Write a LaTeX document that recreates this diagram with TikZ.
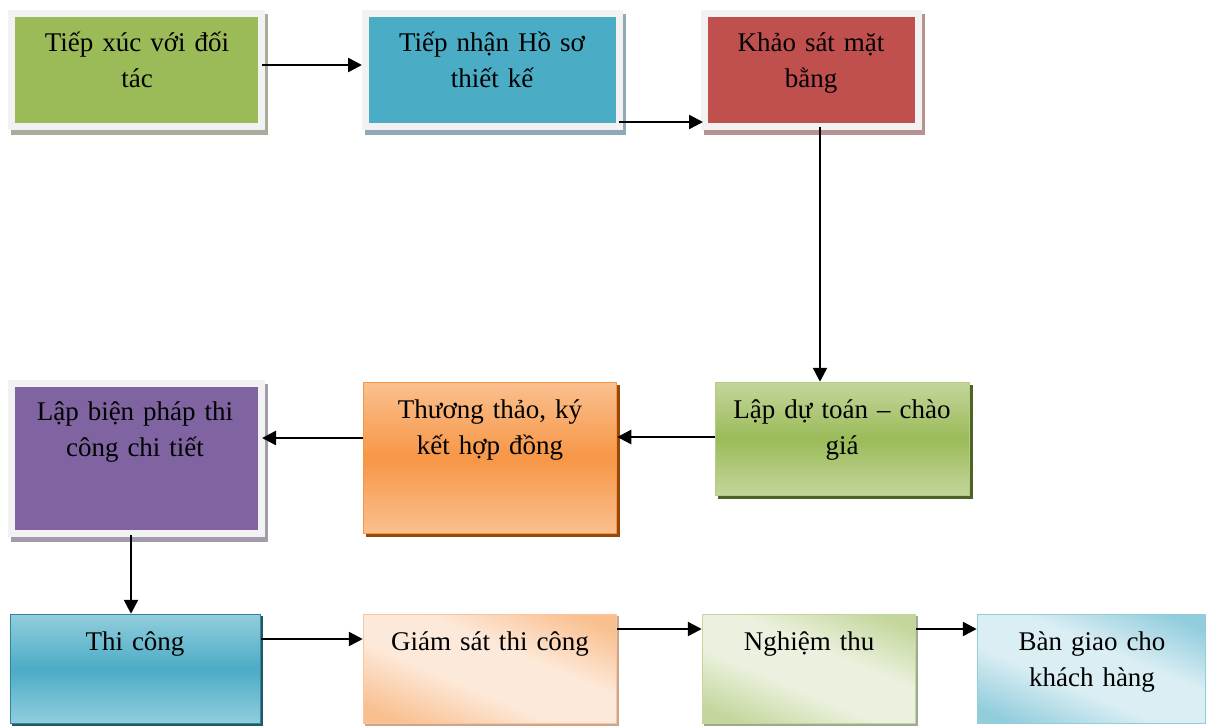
\documentclass[tikz,border=0pt]{standalone}
\usepackage{fontspec}
\setmainfont{Liberation Serif}
\usetikzlibrary{arrows.meta,backgrounds}
\definecolor{frameg}{HTML}{F2F2F2}
\definecolor{cgreen}{HTML}{9BBB59}
\definecolor{cblue}{HTML}{4BACC6}
\definecolor{cred}{HTML}{C0504D}
\definecolor{cpurple}{HTML}{8064A2}
\definecolor{sh1}{HTML}{A7AC9B}
\definecolor{sh2}{HTML}{8FAAB6}
\definecolor{sh3}{HTML}{B89290}
\definecolor{sh6}{HTML}{A39BAD}
\definecolor{gL}{HTML}{C3D69B}
\definecolor{gD}{HTML}{9BBB59}
\definecolor{gB}{HTML}{B3CC82}
\definecolor{gS}{HTML}{4F6228}
\definecolor{oL}{HTML}{FAC08F}
\definecolor{oD}{HTML}{F79646}
\definecolor{oS}{HTML}{984807}
\definecolor{bL}{HTML}{92CDDC}
\definecolor{bD}{HTML}{4BACC6}
\definecolor{bB}{HTML}{31859C}
\definecolor{bS}{HTML}{215968}
\definecolor{pD}{HTML}{F9BF8F}
\definecolor{pL}{HTML}{FDE9D9}
\definecolor{pB}{HTML}{FAC59E}
\definecolor{pS}{HTML}{C9A68C}
\definecolor{nD}{HTML}{C3D69B}
\definecolor{nL}{HTML}{EBF1DE}
\definecolor{nS}{HTML}{A0A890}
\definecolor{kD}{HTML}{92CDDC}
\definecolor{kL}{HTML}{DBEEF4}
\pgfdeclarehorizontalshading{shpeach}{100bp}{color(0bp)=(pD); color(22bp)=(pD); color(42bp)=(pL); color(58bp)=(pL); color(78bp)=(pD); color(100bp)=(pD)}
\pgfdeclarehorizontalshading{shlgreen}{100bp}{color(0bp)=(nD); color(22bp)=(nD); color(42bp)=(nL); color(58bp)=(nL); color(78bp)=(nD); color(100bp)=(nD)}
\pgfdeclarehorizontalshading{shlblue}{100bp}{color(0bp)=(kD); color(22bp)=(kD); color(42bp)=(kL); color(58bp)=(kL); color(78bp)=(kD); color(100bp)=(kD)}
\begin{document}
\begin{tikzpicture}[x=1pt,y=-1pt,
  fbox/.style={draw=frameg, line width=7pt, inner sep=0pt},
  gbox/.style={line width=1.5pt, inner sep=0pt},
  lbl/.style={anchor=north, inner sep=0pt, text width=#1, align=center,
    font=\fontsize{27}{36}\selectfont},
  conn/.style={line width=2.5pt, -{Triangle[length=14pt,width=14pt]}}]
\useasboundingbox (0,0) rectangle (1207,726);
% boxes
\node[fbox, fill=cgreen, minimum width=250, minimum height=113] (b1) at (136.5,70) {};
\node[fbox, fill=cblue, minimum width=254, minimum height=113] (b2) at (492.5,70) {};
\node[fbox, fill=cred, minimum width=214, minimum height=113] (b3) at (811.5,70) {};
\node[gbox, draw=gB, top color=gL, bottom color=gL, middle color=gD, minimum width=254, minimum height=113] (b4) at (842.5,439) {};
\node[gbox, draw=oD, top color=oL, bottom color=oL, middle color=oD, minimum width=253, minimum height=151] (b5) at (490,458) {};
\node[fbox, fill=cpurple, minimum width=250, minimum height=150] (b6) at (136.5,458.5) {};
\node[gbox, draw=bB, top color=bL, bottom color=bL, middle color=bD, minimum width=250, minimum height=109] (b7) at (135.5,669) {};
\node[gbox, draw=pB, shading=shpeach, shading angle=67, minimum width=253, minimum height=109] (b8) at (490,669) {};
\node[gbox, draw=nD, shading=shlgreen, shading angle=67, minimum width=213, minimum height=109] (b9) at (809,669) {};
\node[gbox, draw=kD, shading=shlblue, shading angle=67, minimum width=228, minimum height=109] (b10) at (1091.5,669) {};
% shadows
\begin{pgfonlayer}{background}
\fill[sh1] ([shift={(3,4)}]b1.north west) rectangle ([shift={(3,5)}]b1.south east);
\fill[sh2] ([shift={(3,4)}]b2.north west) rectangle ([shift={(3,5)}]b2.south east);
\fill[sh3] ([shift={(3,4)}]b3.north west) rectangle ([shift={(3,5)}]b3.south east);
\fill[gS] ([shift={(3,3)}]b4.north west) rectangle ([shift={(3,3)}]b4.south east);
\fill[oS] ([shift={(3,3)}]b5.north west) rectangle ([shift={(3,3)}]b5.south east);
\fill[sh6] ([shift={(3,4)}]b6.north west) rectangle ([shift={(3,5)}]b6.south east);
\fill[bS] ([shift={(2,2)}]b7.north west) rectangle ([shift={(2,2)}]b7.south east);
\fill[pS] ([shift={(2,2)}]b8.north west) rectangle ([shift={(2,2)}]b8.south east);
\fill[nS] ([shift={(2,2)}]b9.north west) rectangle ([shift={(2,2)}]b9.south east);
\end{pgfonlayer}
% labels
\node[lbl=240] (t1) at (137,21) {\rule{0pt}{30pt}Tiếp xúc với đối\\tác};
\node[lbl=245] (t2) at (492,21) {\rule{0pt}{30pt}Tiếp nhận Hồ sơ\\thiết kế};
\node[lbl=205] (t3) at (811,21) {\rule{0pt}{30pt}Khảo sát mặt\\bằng};
\node[lbl=245] (t4) at (842,388) {\rule{0pt}{30pt}Lập dự toán – chào\\giá};
\node[lbl=245] (t5) at (490,388) {\rule{0pt}{30pt}Thương thảo, ký\\kết hợp đồng};
\node[lbl=240] (t6) at (135,390) {\rule{0pt}{30pt}Lập biện pháp thi\\công chi tiết};
\node[lbl=240] (t7) at (135,620) {\rule{0pt}{30pt}Thi công};
\node[lbl=245] (t8) at (490,620) {\rule{0pt}{30pt}Giám sát thi công};
\node[lbl=205] (t9) at (809,620) {\rule{0pt}{30pt}Nghiệm thu};
\node[lbl=220] (t10) at (1092,620) {\rule{0pt}{30pt}Bàn giao cho\\khách hàng};
% connectors
\draw[conn] ([xshift=-3pt]b1.east |- 0,65) -- (b2.west |- 0,65);
\draw[conn] ([xshift=-4pt]b2.east |- 0,122) -- ([xshift=2pt]b3.west |- 0,122);
\draw[conn] ([yshift=3pt]b3.south -| 820,0) -- (b4.north -| 820,0);
\draw[conn] (b4.west |- 0,437) -- (b5.east |- 0,437);
\draw[conn] (b5.west |- 0,438) -- ([xshift=-3pt]b6.east |- 0,438);
\draw[conn] ([yshift=2pt]b6.south -| 131,0) -- (b7.north -| 131,0);
\draw[conn] (b7.east |- 0,639) -- (b8.west |- 0,639);
\draw[conn] (b8.east |- 0,629) -- (b9.west |- 0,629);
\draw[conn] (b9.east |- 0,629) -- (b10.west |- 0,629);
\end{tikzpicture}
\end{document}
